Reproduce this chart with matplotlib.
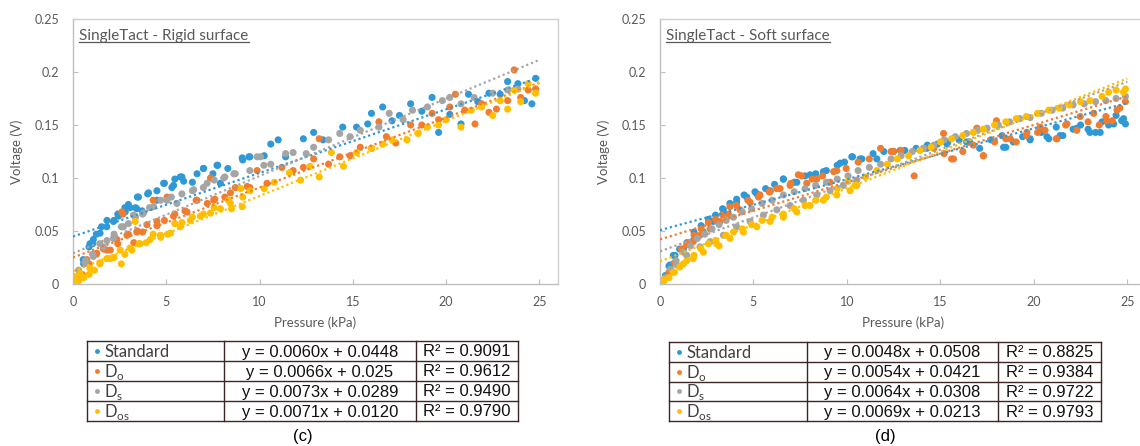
import numpy as np
import matplotlib
matplotlib.use('Agg')
import matplotlib.pyplot as plt
from matplotlib.lines import Line2D

plt.rcParams['font.family'] = ['Lato', 'DejaVu Sans']
plt.rcParams['mathtext.fontset'] = 'custom'
plt.rcParams['mathtext.rm'] = 'Lato'

# ---- colours / series names
series_names = ['Standard', 'D$_\\mathregular{o}$', 'D$_\\mathregular{s}$', 'D$_\\mathregular{os}$']
colors = ['#2f98d6', '#f07c30', '#a5a5a5', '#ffbf00']

# ---- (c) rigid surface
rigid_std_x = [0.06, 0.57, 0.86, 1.05, 1.25, 1.53, 1.82, 2.2, 2.4, 2.78, 2.97, 3.35, 3.45, 3.7, 4.0, 4.5, 4.9, 5.3, 5.46,
               5.84, 6.4, 6.99, 7.5, 7.76, 8.3, 9.1, 9.48, 10.25, 10.6, 11.0, 11.4, 12.35, 12.9, 13.4, 14.46, 15.2, 15.8,
               16.0, 16.6, 17.1, 17.5, 18.1, 18.7, 19.25, 19.6, 20.2, 20.8, 21.2, 21.7, 22.3, 22.9, 23.3, 23.85, 24.2,
               24.6, 24.8,
               0.55, 0.91, 1.09, 1.45, 1.81, 2.17, 2.44, 2.8, 3.06, 3.42, 3.51, 4.05, 4.5, 4.86, 5.39, 5.75, 5.93, 6.65,
               7.0, 7.72, 7.9, 9.07, 9.43]
rigid_std_y = [0.002, 0.019, 0.035, 0.038, 0.047, 0.054, 0.060, 0.060, 0.066, 0.072, 0.075, 0.072, 0.082, 0.069, 0.085,
               0.088, 0.095, 0.091, 0.099, 0.101, 0.096, 0.109, 0.104, 0.112, 0.109, 0.117, 0.120, 0.121, 0.132, 0.136,
               0.120, 0.137, 0.143, 0.136, 0.148, 0.148, 0.151, 0.161, 0.167, 0.154, 0.159, 0.170, 0.163, 0.176, 0.143,
               0.160, 0.151, 0.179, 0.172, 0.180, 0.179, 0.191, 0.189, 0.173, 0.170, 0.194,
               0.023, 0.038, 0.042, 0.048, 0.054, 0.059, 0.064, 0.068, 0.072, 0.071, 0.082, 0.086, 0.079, 0.095, 0.093,
               0.101, 0.097, 0.104, 0.109, 0.112, 0.095, 0.119, 0.120]
rigid_do_x = [0.2, 0.5, 0.86, 1.25, 1.63, 2.0, 2.4, 2.68, 2.97, 3.26, 3.45, 3.73, 4.3, 4.5, 4.9, 5.46, 6.0, 6.6, 7.2, 7.6,
              8.14, 8.7, 9.48, 9.87, 10.4, 11.2, 11.8, 12.35, 12.9, 13.2, 13.7, 14.3, 14.85, 15.4, 16.0, 16.4, 16.8, 17.3,
              18.1, 18.7, 19.25, 19.6, 20.2, 20.5, 21.0, 21.55, 21.9, 22.3, 22.7, 23.3, 23.65, 24.0, 24.4, 24.8,
              0.11, 0.74, 1.27, 1.81, 2.35, 2.62, 2.89, 3.42, 3.96, 4.5, 5.04, 5.39, 6.11, 6.65, 7.37, 7.54, 8.44, 9.34]
rigid_do_y = [0.005, 0.009, 0.019, 0.028, 0.033, 0.032, 0.038, 0.066, 0.047, 0.039, 0.050, 0.049, 0.079, 0.055, 0.060,
              0.066, 0.069, 0.079, 0.076, 0.080, 0.082, 0.091, 0.091, 0.107, 0.095, 0.110, 0.107, 0.110, 0.118, 0.137,
              0.113, 0.120, 0.121, 0.129, 0.128, 0.153, 0.139, 0.133, 0.150, 0.150, 0.161, 0.155, 0.167, 0.179, 0.164,
              0.151, 0.170, 0.162, 0.165, 0.173, 0.202, 0.176, 0.183, 0.184,
              0.004, 0.023, 0.029, 0.032, 0.042, 0.068, 0.046, 0.049, 0.056, 0.059, 0.082, 0.064, 0.068, 0.079, 0.100,
              0.079, 0.086, 0.092]
rigid_ds_x = [0.06, 0.3, 0.67, 1.05, 1.44, 1.82, 2.2, 2.59, 2.97, 3.35, 3.73, 4.1, 4.7, 5.27, 5.84, 6.4, 6.99, 7.57, 8.14,
              8.7, 9.48, 9.87, 10.6, 11.4, 11.8, 12.5, 12.9, 13.7, 14.3, 14.85, 15.4, 16.4, 16.95, 17.7, 18.2, 19.0, 19.8,
              20.2, 20.8, 21.5, 22.5, 23.3, 23.85,
              0.38, 0.65, 1.09, 1.63, 2.17, 2.7, 3.24, 3.78, 4.32, 5.04, 5.57, 6.47, 7.19, 8.08, 8.62, 10.05, 10.23]
rigid_ds_y = [0.0, 0.013, 0.022, 0.028, 0.038, 0.041, 0.047, 0.054, 0.057, 0.063, 0.066, 0.072, 0.079, 0.082, 0.085,
              0.088, 0.091, 0.098, 0.101, 0.104, 0.107, 0.120, 0.113, 0.123, 0.124, 0.123, 0.129, 0.136, 0.142, 0.139,
              0.145, 0.148, 0.161, 0.155, 0.164, 0.167, 0.173, 0.176, 0.170, 0.176, 0.180, 0.183, 0.184,
              0.007, 0.020, 0.026, 0.035, 0.043, 0.054, 0.065, 0.067, 0.073, 0.079, 0.076, 0.089, 0.095, 0.100, 0.104,
              0.120, 0.112]
rigid_dos_x = [0.1, 0.3, 0.57, 0.86, 1.15, 1.44, 1.82, 2.2, 2.59, 2.78, 3.16, 3.54, 3.93, 4.3, 4.7, 5.07, 5.46, 5.84, 6.4,
               6.99, 7.57, 8.33, 8.5, 9.1, 9.48, 10.25, 10.8, 11.6, 12.2, 12.7, 13.2, 13.85, 14.5, 15.2, 16.0, 16.6, 17.1,
               17.9, 18.5, 19.0, 19.6, 20.0, 20.8, 21.35, 21.9, 22.5, 22.9, 23.3, 23.65, 24.0, 24.4, 24.8,
               0.11, 0.38, 0.91, 1.45, 1.99, 2.53, 3.06, 3.33, 3.6, 4.14, 4.68, 5.22, 5.75, 6.29, 6.83, 7.37, 7.9, 8.44,
               9.07, 9.0]
rigid_dos_y = [0.001, 0.003, 0.006, 0.009, 0.013, 0.019, 0.024, 0.025, 0.019, 0.028, 0.032, 0.038, 0.039, 0.047, 0.044,
               0.047, 0.057, 0.058, 0.063, 0.066, 0.072, 0.079, 0.071, 0.082, 0.088, 0.090, 0.096, 0.105, 0.098, 0.111,
               0.101, 0.124, 0.111, 0.124, 0.128, 0.132, 0.136, 0.136, 0.142, 0.148, 0.150, 0.155, 0.148, 0.164, 0.167,
               0.159, 0.173, 0.165, 0.183, 0.172, 0.189, 0.180,
               0.007, 0.010, 0.015, 0.020, 0.024, 0.032, 0.034, 0.059, 0.038, 0.042, 0.046, 0.048, 0.054, 0.060, 0.064,
               0.067, 0.071, 0.076, 0.073, 0.090]

# ---- (d) soft surface
soft_std_x = [0.1, 0.29, 0.48, 0.71, 1.05, 1.44, 1.82, 2.2, 2.59, 2.97, 3.35, 3.74, 4.1, 4.5, 5.08, 5.65, 6.13, 6.6, 7.18,
              7.76, 8.33, 8.9, 9.48, 9.87, 10.3, 10.8, 11.4, 11.97, 12.5, 13.1, 13.7, 14.3, 14.85, 15.4, 16.0, 16.57,
              17.1, 17.7, 18.3, 18.5, 18.9, 19.4, 19.8, 20.4, 20.8, 21.2, 21.55, 22.1, 22.5, 22.9, 23.3, 23.65, 24.0,
              24.4, 24.7, 24.9,
              0.54, 0.8, 1.25, 1.78, 2.32, 2.85, 3.39, 4.1, 4.64, 5.18, 5.89, 6.6, 7.32, 8.03, 8.74, 9.64, 10.26,
              18.38, 19.8, 20.7, 21.4, 22.3, 23.0, 23.55, 24.27, 24.8, 10.7, 11.6, 12.85, 14.28, 15.35, 16.4]
soft_std_y = [0.002, 0.008, 0.017, 0.027, 0.033, 0.039, 0.049, 0.055, 0.061, 0.065, 0.071, 0.076, 0.080, 0.084, 0.087,
              0.090, 0.094, 0.099, 0.096, 0.102, 0.104, 0.107, 0.112, 0.115, 0.120, 0.118, 0.123, 0.125, 0.125, 0.126,
              0.128, 0.131, 0.132, 0.134, 0.136, 0.134, 0.128, 0.136, 0.140, 0.129, 0.134, 0.139, 0.136, 0.143, 0.137,
              0.148, 0.140, 0.146, 0.150, 0.146, 0.143, 0.153, 0.150, 0.159, 0.154, 0.151,
              0.018, 0.027, 0.033, 0.041, 0.049, 0.059, 0.070, 0.077, 0.082, 0.085, 0.088, 0.099, 0.096, 0.103, 0.106,
              0.114, 0.120, 0.129, 0.137, 0.139, 0.140, 0.147, 0.143, 0.143, 0.151, 0.156, 0.118, 0.118, 0.126, 0.128,
              0.132, 0.134]
soft_do_x = [0.19, 0.48, 0.77, 1.15, 1.53, 1.82, 2.2, 2.59, 2.97, 3.35, 3.74, 4.1, 4.7, 5.27, 5.84, 6.42, 7.0, 7.57, 8.14,
             8.7, 9.29, 9.96, 10.6, 11.2, 11.8, 12.36, 12.9, 13.6, 14.1, 14.65, 15.2, 15.6, 16.2, 16.76, 17.3, 17.9, 18.0,
             18.5, 19.06, 19.6, 20.2, 20.6, 21.2, 21.7, 22.3, 22.9, 23.5, 23.85, 24.2, 24.6, 24.9,
             1.43, 1.78, 2.14, 2.68, 3.21, 3.66, 4.28, 4.82, 5.35, 5.89, 6.25, 6.96, 7.4, 7.85, 8.39, 9.1, 9.46,
             12.49, 15.17, 15.7, 16.95, 17.3, 18.74, 19.63, 20.34, 21.24, 21.77, 22.48, 23.2, 23.9, 24.45]
soft_do_y = [0.003, 0.011, 0.020, 0.033, 0.039, 0.046, 0.052, 0.058, 0.061, 0.065, 0.073, 0.074, 0.079, 0.082, 0.087,
             0.090, 0.095, 0.102, 0.099, 0.102, 0.106, 0.109, 0.115, 0.118, 0.128, 0.125, 0.126, 0.102, 0.128, 0.128,
             0.123, 0.118, 0.125, 0.131, 0.121, 0.134, 0.154, 0.137, 0.134, 0.140, 0.143, 0.145, 0.137, 0.150, 0.145,
             0.153, 0.150, 0.158, 0.154, 0.166, 0.172,
             0.037, 0.040, 0.046, 0.052, 0.059, 0.066, 0.070, 0.077, 0.084, 0.087, 0.090, 0.093, 0.103, 0.095, 0.099,
             0.096, 0.107, 0.125, 0.142, 0.118, 0.147, 0.121, 0.137, 0.143, 0.148, 0.137, 0.151, 0.158, 0.161, 0.154,
             0.164]
soft_ds_x = [0.06, 0.29, 0.57, 0.86, 1.25, 1.63, 2.0, 2.4, 2.78, 3.16, 3.54, 3.93, 4.4, 4.9, 5.46, 6.0, 6.6, 7.18, 7.76,
             8.33, 8.9, 9.48, 10.06, 10.6, 11.2, 11.8, 12.36, 12.9, 13.5, 14.1, 14.65, 15.2, 15.8, 16.4, 17.0, 17.5,
             18.1, 18.7, 19.25, 19.8, 20.4, 20.98, 21.55, 22.1, 22.7, 23.3, 23.85, 24.4, 24.9,
             0.89, 1.43, 2.14, 2.68, 3.39, 4.1, 4.82, 5.53, 6.25, 6.96, 7.67, 8.39, 9.1, 9.81, 10.53]
soft_ds_y = [0.0, 0.006, 0.014, 0.022, 0.030, 0.036, 0.043, 0.047, 0.052, 0.056, 0.060, 0.063, 0.068, 0.071, 0.076,
             0.079, 0.084, 0.087, 0.090, 0.093, 0.096, 0.099, 0.102, 0.107, 0.110, 0.113, 0.118, 0.121, 0.125, 0.128,
             0.131, 0.136, 0.139, 0.142, 0.145, 0.147, 0.150, 0.153, 0.156, 0.157, 0.161, 0.164, 0.166, 0.169, 0.170,
             0.172, 0.173, 0.175, 0.177,
             0.018, 0.027, 0.035, 0.040, 0.046, 0.054, 0.059, 0.065, 0.070, 0.074, 0.079, 0.084, 0.088, 0.093, 0.098]
soft_dos_x = [0.0, 0.19, 0.48, 0.77, 1.05, 1.44, 1.82, 2.2, 2.59, 2.97, 3.16, 3.54, 3.93, 4.4, 4.9, 5.46, 6.0, 6.6, 7.18,
              7.76, 8.33, 8.9, 9.48, 10.06, 10.44, 11.0, 11.6, 12.16, 12.7, 13.3, 13.9, 14.5, 15.0, 15.6, 16.2, 16.76,
              17.3, 17.9, 18.5, 19.06, 19.6, 20.2, 20.8, 21.35, 21.9, 22.5, 23.0, 23.65, 24.0, 24.4, 24.8, 24.9,
              0.18, 0.71, 1.25, 1.78, 2.32, 3.03, 3.75, 4.46, 5.18, 5.89, 6.6, 7.32, 8.03, 8.74, 9.46, 10.17, 10.53]
soft_dos_y = [0.0, 0.002, 0.006, 0.011, 0.016, 0.022, 0.027, 0.033, 0.038, 0.041, 0.036, 0.046, 0.049, 0.052, 0.056,
              0.060, 0.063, 0.066, 0.071, 0.074, 0.079, 0.082, 0.090, 0.097, 0.093, 0.101, 0.107, 0.113, 0.118, 0.121,
              0.126, 0.129, 0.134, 0.137, 0.140, 0.143, 0.146, 0.150, 0.153, 0.156, 0.158, 0.161, 0.164, 0.166, 0.169,
              0.172, 0.173, 0.177, 0.181, 0.183, 0.181, 0.184,
              0.004, 0.011, 0.019, 0.024, 0.030, 0.038, 0.043, 0.049, 0.054, 0.059, 0.063, 0.068, 0.074, 0.079, 0.084,
              0.088, 0.093]

# ---- linear trendline coefficients (slope, intercept) and R^2
rigid_slopes = [0.0060, 0.0066, 0.0073, 0.0071]
rigid_icepts = [0.0448, 0.025, 0.0289, 0.0120]
rigid_eq_txt = ['0.0060x + 0.0448', '0.0066x + 0.025', '0.0073x + 0.0289', '0.0071x + 0.0120']
rigid_r2 = ['0.9091', '0.9612', '0.9490', '0.9790']
soft_slopes = [0.0048, 0.0054, 0.0064, 0.0069]
soft_icepts = [0.0508, 0.0421, 0.0308, 0.0213]
soft_eq_txt = ['0.0048x + 0.0508', '0.0054x + 0.0421', '0.0064x + 0.0308', '0.0069x + 0.0213']
soft_r2 = ['0.8825', '0.9384', '0.9722', '0.9793']

W, H = 1140, 446
fig = plt.figure(figsize=(W / 100, H / 100), dpi=100)


def rect(x0, y0, x1, y1):
    # pixel box (top-left origin) -> figure fraction
    return [x0 / W, 1 - y1 / H, (x1 - x0) / W, (y1 - y0) / H]


grey_txt = '#595959'
spine_c = '#d0d0d0'


def draw_panel(box, title, xs, ys, slopes, icepts):
    ax = fig.add_axes(rect(*box))
    for x, y, c in zip(xs, ys, colors):
        ax.scatter(x, y, s=26, color=c, edgecolors='none', zorder=2)
    xx = np.array([0, 25])
    for m, b, c in zip(slopes, icepts, colors):
        ax.plot(xx, m * xx + b, color=c, lw=1.6, ls=(0, (1, 1.3)), zorder=3)
    ax.set_xlim(0, 26)
    ax.set_ylim(0, 0.25)
    ax.set_xticks([0, 5, 10, 15, 20, 25])
    ax.set_yticks([0, 0.05, 0.1, 0.15, 0.2, 0.25])
    ax.set_yticklabels(['0', '0.05', '0.1', '0.15', '0.2', '0.25'])
    ax.tick_params(direction='in', length=3.5, width=0.8, color='#bfbfbf', labelcolor=grey_txt, labelsize=9)
    ax.tick_params(axis='y', pad=10)
    ax.tick_params(axis='x', pad=9)
    for s in ax.spines.values():
        s.set_color(spine_c)
        s.set_linewidth(1.0)
    ax.spines['bottom'].set_color('#bfbfbf')
    ax.spines['left'].set_color('#bfbfbf')
    ax.set_ylabel('Voltage (V)', color=grey_txt, fontsize=9.5, labelpad=8)
    ax.set_xlabel('Pressure (kPa)', color=grey_txt, fontsize=9.5, labelpad=6)
    t = ax.text(0.013, 0.935, title, transform=ax.transAxes, color=grey_txt, fontsize=11, va='center', ha='left')
    return ax, t


ax_c, t_c = draw_panel((73, 19, 558, 284), 'SingleTact - Rigid surface',
                       [rigid_std_x, rigid_do_x, rigid_ds_x, rigid_dos_x],
                       [rigid_std_y, rigid_do_y, rigid_ds_y, rigid_dos_y], rigid_slopes, rigid_icepts)
ax_d, t_d = draw_panel((660, 19, 1146, 284), 'SingleTact - Soft surface',
                       [soft_std_x, soft_do_x, soft_ds_x, soft_dos_x],
                       [soft_std_y, soft_do_y, soft_ds_y, soft_dos_y], soft_slopes, soft_icepts)


def draw_table(box, divs, eqs, r2s, caption):
    x0, y0, x1, y1 = box
    tx = fig.add_axes(rect(*box))
    tx.set_xlim(x0, x1)
    tx.set_ylim(y1, y0)
    tx.axis('off')
    edge = '#3e2626'
    n = len(series_names)
    rh = (y1 - y0) / n
    for i in range(n + 1):
        tx.plot([x0, x1], [y0 + i * rh] * 2, color=edge, lw=1.0, clip_on=False)
    for xv in [x0, divs[0], divs[1], x1]:
        tx.plot([xv, xv], [y0, y1], color=edge, lw=1.0, clip_on=False)
    for i in range(n):
        yc = y0 + (i + 0.5) * rh
        tx.plot(x0 + 10, yc, 'o', color=colors[i], ms=3.5, mec='none')
        tx.text(x0 + 17, yc + 1, series_names[i], color='#404040', fontsize=12, va='center', ha='left')
        tx.text((divs[0] + divs[1]) / 2, yc + 1, 'y = ' + eqs[i], fontsize=12, va='center', ha='center',
                family='Liberation Sans', color='#111111')
        tx.text((divs[1] + x1) / 2, yc + 1, 'R\u00b2 = ' + r2s[i], fontsize=12, va='center', ha='center',
                family='Liberation Sans', color='#111111')
    tx.text((x0 + x1) / 2, y1 + 16, caption, fontsize=12, va='center', ha='center', family='Liberation Sans')


draw_table((87, 341, 518, 421), (224, 416), rigid_eq_txt, rigid_r2, '(c)')
draw_table((669, 342, 1101, 421), (807, 998), soft_eq_txt, soft_r2, '(d)')

# underline the in-plot titles
fig.canvas.draw()
rend = fig.canvas.get_renderer()
for t in (t_c, t_d):
    bb = t.get_window_extent(rend)
    yl = (bb.y0 + 1) / H
    fig.add_artist(Line2D([bb.x0 / W, bb.x1 / W], [yl, yl], color=grey_txt, lw=0.9))

fig.savefig('out.png', dpi=100)
